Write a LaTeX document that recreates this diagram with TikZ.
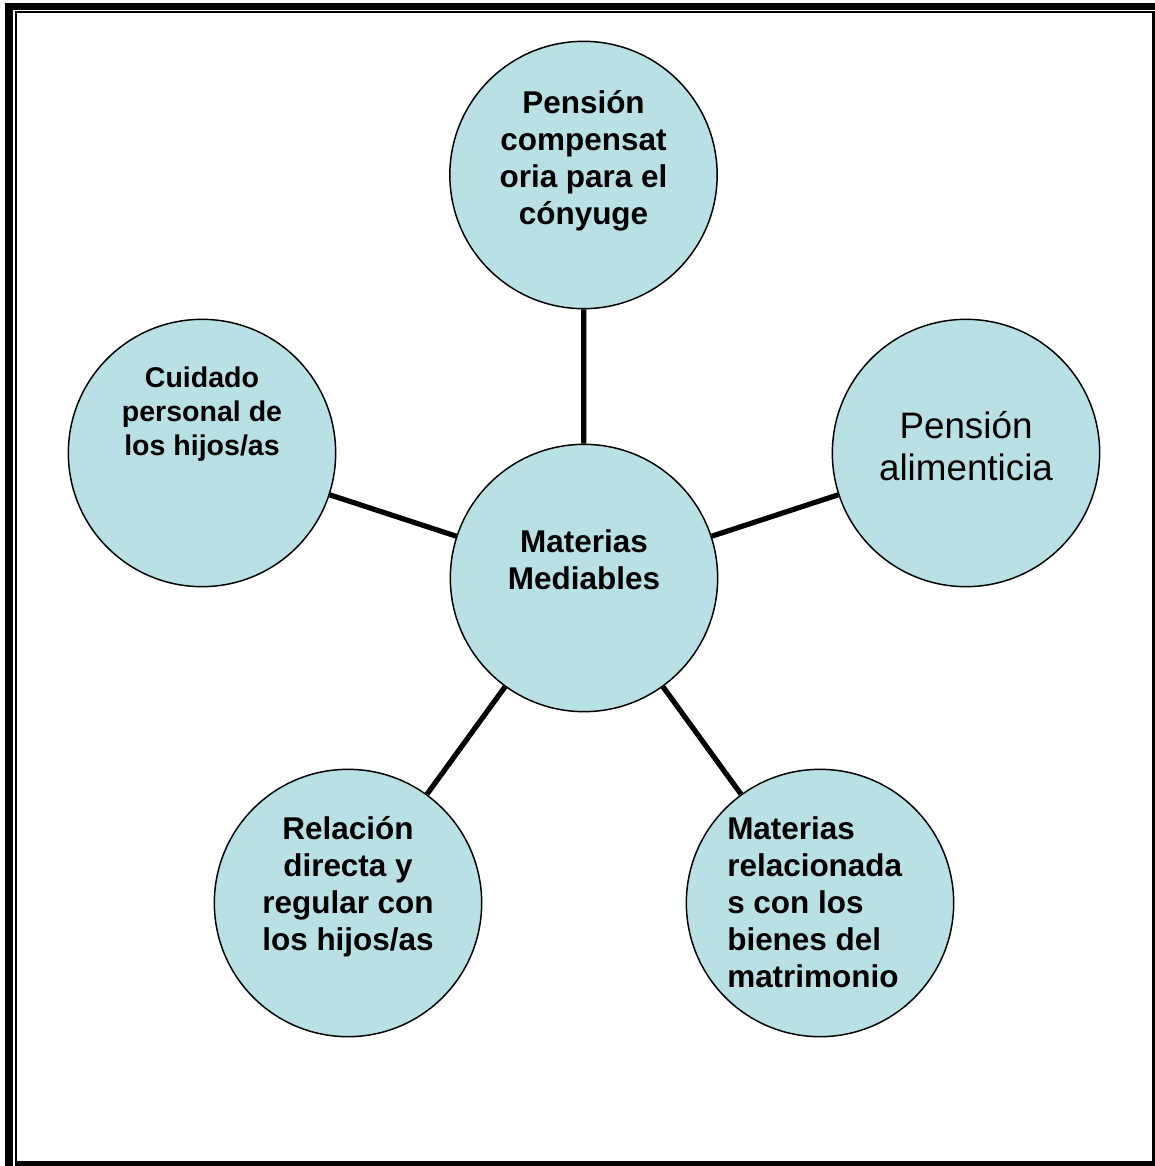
\documentclass[tikz,border=0pt]{standalone}
\usepackage{fontspec}
\setmainfont{Liberation Sans}
\definecolor{bubblefill}{RGB}{185,224,228}
\begin{document}
\begin{tikzpicture}[x=.75pt,y=-.75pt,
  bubble/.style={circle,draw,line width=1.1pt,fill=bubblefill,minimum size=200.5pt,inner sep=0pt},
  link/.style={line width=3.9pt},
  bigtxt/.style={align=center,inner sep=0pt,font=\fontsize{23.6}{27.75}\selectfont\bfseries},
  smalltxt/.style={align=center,inner sep=0pt,font=\fontsize{21.4}{25.5}\selectfont\bfseries}]
\useasboundingbox (0,0) rectangle (1155,1166);
% page frame
\fill (5,3) rectangle (13,1166);
\fill (5,3) rectangle (1155,10.5);
\fill (15,11.5) rectangle (17,1161);
\fill (15,11.5) rectangle (1155,13.5);
\fill (1151.7,13.5) rectangle (1155,1166);
\fill (15,1161) rectangle (1155,1166);
% bubbles
\node[bubble] (mid) at (584,578) {};
\node[bubble] (top) at (583.5,175) {};
\node[bubble] (rgt) at (966,453) {};
\node[bubble] (lft) at (202,453) {};
\node[bubble] (blf) at (348,903) {};
\node[bubble] (brt) at (820,903) {};
\foreach \n in {top,rgt,brt,blf,lft}
  \draw[link] (mid) -- (\n);
% texts
\node[bigtxt] (mid-t) at ([yshift=14pt]mid) {Materias\\Mediables};
\node[bigtxt] (top-t) at ([yshift=10.5pt]top) {Pensión\\compensat\\oria para el\\cónyuge};
\node[align=center,inner sep=0pt,font=\fontsize{27.6}{31.5}\selectfont]
  (rgt-t) at ([yshift=5pt]rgt) {Pensión\\alimenticia};
\node[smalltxt] (lft-t) at ([yshift=29.25pt]lft) {Cuidado\\personal de\\los hijos/as};
\node[bigtxt] (blf-t) at ([yshift=12.4pt]blf) {Relación\\directa y\\regular con\\los hijos/as};
\node[bigtxt,align=left,anchor=west] (brt-t) at (727,902) {Materias\\relacionada\\s con los\\bienes del\\matrimonio};
\end{tikzpicture}
\end{document}
